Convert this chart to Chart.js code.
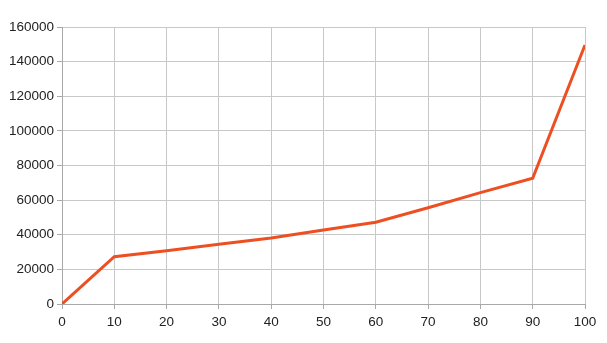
<!DOCTYPE html>
<html>
<head>
<meta charset="utf-8">
<script src="https://cdn.jsdelivr.net/npm/chart.js@4/dist/chart.umd.min.js"></script>
<style>
html,body{margin:0;padding:0;background:#fff;}
#wrap{width:607px;height:343px;position:relative;}
</style>
</head>
<body>
<div id="wrap"><canvas id="c" width="607" height="343"></canvas></div>
<script>
const xValues = [0, 10, 20, 30, 40, 50, 60, 70, 80, 90, 100];
const yValues = [0, 27300, 30800, 34500, 38100, 42700, 47200, 55600, 64300, 72600, 149600];
const xTickStep = 10;
const yTickStep = 20000;

const points = xValues.map((x, i) => ({x: x, y: yValues[i]}));
const fontSpec = {family: 'Liberation Sans, Arial, sans-serif', size: 13.5};

new Chart(document.getElementById('c'), {
  type: 'line',
  data: {
    datasets: [{
      data: points,
      borderColor: '#ee4f22',
      borderWidth: 3,
      pointRadius: 0,
      tension: 0,
      fill: false
    }]
  },
  options: {
    responsive: false,
    animation: false,
    events: [],
    layout: {padding: {left: 0, top: 27, right: 22, bottom: 0}},
    plugins: {legend: {display: false}, tooltip: {enabled: false}},
    scales: {
      x: {
        type: 'linear',
        min: 0, max: 100,
        ticks: {stepSize: xTickStep, color: '#222', font: fontSpec, padding: 5, maxRotation: 0,
                callback: v => String(v)},
        grid: {color: '#c8c8c8', lineWidth: 1, tickLength: 5, tickColor: '#a8a8a8'},
        border: {color: '#a8a8a8', width: 1},
        afterFit: s => { s.height = 39; }
      },
      y: {
        min: 0, max: 160000,
        ticks: {stepSize: yTickStep, color: '#222', font: fontSpec, padding: 3,
                callback: v => String(v)},
        grid: {color: '#c8c8c8', lineWidth: 1, tickLength: 5, tickColor: '#a8a8a8'},
        border: {color: '#a8a8a8', width: 1},
        afterFit: s => { s.width = 62; }
      }
    }
  }
});
</script>
</body>
</html>
